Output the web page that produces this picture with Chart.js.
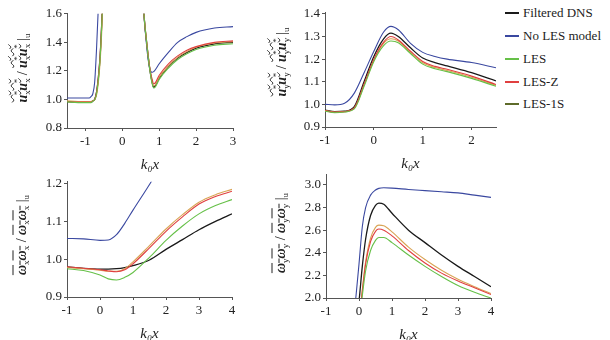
<!DOCTYPE html>
<html>
<head>
<meta charset="utf-8">
<script src="https://cdn.jsdelivr.net/npm/chart.js@4"></script>
<style>
  body { margin: 0; background: #fff; width: 610px; height: 340px; position: relative; overflow: hidden; font-family: "Liberation Serif", "Times New Roman", Tinos, "DejaVu Serif", serif; color: #222; }
  canvas { position: absolute; }
  .ytitle { position: absolute; white-space: nowrap; font-size: 14px; transform: translate(-50%, -50%) rotate(-90deg); }
  .ytitle i { font-weight: bold; }
  .til { text-decoration: overline wavy; text-decoration-thickness: 1px; }
  .bar { text-decoration: overline; text-decoration-thickness: 1px; }
  .ytitle sub { font-size: 9px; vertical-align: -3px; }
  .ytitle sup { font-size: 9px; margin-left: -5px; vertical-align: 7px; }
  #legend { position: absolute; left: 505px; top: 0; }
  .row { position: absolute; left: 0; height: 16px; white-space: nowrap; font-size: 13px; }
  .sw { position: absolute; left: 0; top: 7px; width: 14px; height: 2px; }
  .lab { position: absolute; left: 18px; top: 0; }
</style>
</head>
<body>
<canvas id="c1"></canvas>
<canvas id="c2"></canvas>
<canvas id="c3"></canvas>
<canvas id="c4"></canvas>

<div class="ytitle" style="left:22px; top:68px;"><span class="til"><i>u</i><sub>x</sub><sup>*</sup><i>u</i><sub>x</sub><sup>*</sup></span> / <span class="til"><i>u</i><sub>x</sub><sup>*</sup><i>u</i><sub>x</sub><sup>*</sup></span> |<sub>u</sub></div>
<div class="ytitle" style="left:281px; top:62px;"><span class="til"><i>u</i><sub>y</sub><sup>*</sup><i>u</i><sub>y</sub><sup>*</sup></span> / <span class="til"><i>u</i><sub>y</sub><sup>*</sup><i>u</i><sub>y</sub><sup>*</sup></span> |<sub>u</sub></div>
<div class="ytitle" style="left:22px; top:235px;"><span class="bar"><i>ω</i><sub>x</sub><i>ω</i><sub>x</sub></span> / <span class="bar"><i>ω</i><sub>x</sub><i>ω</i><sub>x</sub></span> |<sub>u</sub></div>
<div class="ytitle" style="left:281px; top:233px;"><span class="bar"><i>ω</i><sub>y</sub><i>ω</i><sub>y</sub></span> / <span class="bar"><i>ω</i><sub>y</sub><i>ω</i><sub>y</sub></span> |<sub>u</sub></div>

<div id="legend"></div>

<script>
// series names and colours
const seriesNames = ['Filtered DNS', 'No LES model', 'LES', 'LES-Z', 'LES-1S']
const lineColors = ['#1a1a1a', '#3a48a0', '#66c048', '#e04040', '#d9a455']
const legendColors = ['#1a1a1a', '#3a48a0', '#66c048', '#e04040', '#5e6b2a']

// panel 1: u_x u_x  (x from -1.5 to 3)
const x1 = [-1.5, -1.2, -0.9, -0.85, -0.8, -0.75, -0.7, -0.65, -0.6, -0.55, -0.5, 0.5, 0.55, 0.6, 0.65, 0.7, 0.75, 0.8, 0.85, 0.9, 1.0, 1.25, 1.5, 1.75, 2.0, 2.5, 3.0]
const p1Dns   = [0.985, 0.98, 0.98, 0.98, 0.99, 1.0, 1.05, 1.15, 1.31, 1.58, 1.9, 2.0, 1.75, 1.55, 1.42, 1.3, 1.2, 1.13, 1.085, 1.1, 1.15, 1.23, 1.29, 1.33, 1.36, 1.39, 1.40]
const p1NoLes = [1.01, 1.01, 1.01, 1.02, 1.04, 1.12, 1.35, 1.65, 2.0, null, null, 2.1, 1.8, 1.55, 1.4, 1.28, 1.21, 1.19, 1.195, 1.21, 1.25, 1.33, 1.40, 1.44, 1.47, 1.50, 1.51]
const p1Les   = [0.983, 0.978, 0.978, 0.978, 0.988, 0.998, 1.04, 1.14, 1.3, 1.57, 1.9, 2.0, 1.75, 1.55, 1.42, 1.3, 1.2, 1.12, 1.08, 1.09, 1.14, 1.22, 1.28, 1.32, 1.35, 1.38, 1.39]
const p1LesZ  = [0.986, 0.982, 0.982, 0.982, 0.99, 1.0, 1.05, 1.16, 1.32, 1.59, 1.9, 2.0, 1.75, 1.55, 1.42, 1.31, 1.21, 1.15, 1.11, 1.12, 1.17, 1.25, 1.305, 1.345, 1.37, 1.40, 1.41]
const p1Les1S = [0.99, 0.985, 0.985, 0.985, 0.99, 0.998, 1.03, 1.12, 1.27, 1.52, 1.85, 2.0, 1.76, 1.56, 1.43, 1.31, 1.21, 1.13, 1.095, 1.105, 1.155, 1.235, 1.295, 1.335, 1.365, 1.395, 1.405]
const xTicks1 = [-1, 0, 1, 2, 3]
const yTicks1 = [0.8, 1.0, 1.2, 1.4, 1.6]

// panel 2: u_y u_y  (x from -1 to 2.5)
const x2 = [-1, -0.8, -0.6, -0.4, -0.2, 0, 0.2, 0.35, 0.5, 0.75, 1.0, 1.25, 1.5, 2.0, 2.5]
const p2Dns   = [0.975, 0.968, 0.97, 0.99, 1.10, 1.212, 1.29, 1.315, 1.30, 1.25, 1.205, 1.185, 1.17, 1.14, 1.104]
const p2NoLes = [1.0, 0.998, 1.005, 1.05, 1.14, 1.235, 1.32, 1.345, 1.33, 1.27, 1.23, 1.212, 1.20, 1.185, 1.162]
const p2Les   = [0.97, 0.963, 0.966, 0.98, 1.08, 1.19, 1.26, 1.28, 1.273, 1.225, 1.178, 1.158, 1.145, 1.115, 1.08]
const p2LesZ  = [0.972, 0.965, 0.968, 0.985, 1.09, 1.20, 1.275, 1.30, 1.285, 1.235, 1.19, 1.168, 1.155, 1.125, 1.088]
const p2Les1S = [0.973, 0.966, 0.968, 0.983, 1.085, 1.195, 1.27, 1.29, 1.28, 1.23, 1.184, 1.163, 1.15, 1.12, 1.084]
const xTicks2 = [-1, 0, 1, 2]
const yTicks2 = [0.9, 1.0, 1.1, 1.2, 1.3, 1.4]

// panel 3: omega_x omega_x  (x from -1 to 4)
const x3 = [-1, -0.5, 0, 0.25, 0.5, 0.75, 1.0, 1.5, 2.0, 2.5, 3.0, 3.5, 4.0]
const p3Dns   = [0.98, 0.976, 0.974, 0.974, 0.975, 0.978, 0.983, 0.998, 1.026, 1.052, 1.078, 1.10, 1.12]
const p3NoLes = [1.055, 1.054, 1.050, 1.051, 1.065, 1.095, 1.13, 1.198, 1.27, null, null, null, null]
const p3Les   = [0.975, 0.97, 0.958, 0.948, 0.945, 0.952, 0.965, 1.005, 1.05, 1.088, 1.12, 1.142, 1.158]
const p3LesZ  = [0.98, 0.976, 0.972, 0.969, 0.967, 0.972, 0.988, 1.03, 1.074, 1.112, 1.146, 1.166, 1.18]
const p3Les1S = [0.978, 0.975, 0.971, 0.968, 0.968, 0.975, 0.993, 1.036, 1.08, 1.118, 1.151, 1.171, 1.185]
const xTicks3 = [-1, 0, 1, 2, 3, 4]
const yTicks3 = [0.9, 1.0, 1.1, 1.2]

// panel 4: omega_y omega_y  (x from -1 to 4)
const x4 = [-0.2, -0.1, 0, 0.1, 0.2, 0.35, 0.5, 0.6, 0.75, 1.0, 1.5, 2.0, 2.5, 3.0, 3.5, 4.0]
const p4Dns   = [1.5, 1.75, 1.97, 2.28, 2.52, 2.73, 2.82, 2.84, 2.83, 2.75, 2.60, 2.49, 2.38, 2.28, 2.19, 2.10]
const p4NoLes = [1.7, 1.99, 2.3, 2.63, 2.8, 2.91, 2.955, 2.97, 2.975, 2.972, 2.96, 2.95, 2.94, 2.93, 2.91, 2.89]
const p4Les   = [1.3, 1.55, 1.78, 2.02, 2.24, 2.42, 2.51, 2.535, 2.535, 2.49, 2.38, 2.28, 2.19, 2.11, 2.05, 2.0]
const p4LesZ  = [1.3, 1.55, 1.8, 2.06, 2.3, 2.5, 2.59, 2.61, 2.60, 2.55, 2.42, 2.31, 2.22, 2.15, 2.09, 2.03]
const p4Les1S = [1.3, 1.55, 1.8, 2.07, 2.32, 2.53, 2.625, 2.645, 2.64, 2.585, 2.45, 2.34, 2.245, 2.165, 2.10, 2.04]
const xTicks4 = [-1, 0, 1, 2, 3, 4]
const yTicks4 = [2.0, 2.2, 2.4, 2.6, 2.8, 3.0]

const YW = 40, XH = 46, PAD = 8
const serifFamily = '"Liberation Serif", "Times New Roman", Tinos, "DejaVu Serif", serif'
const tickFont = { family: serifFamily, size: 13 }

function makePanel(id, area, xs, series, xr, yr, xTicks, yTicks, yDigits) {
  const canvas = document.getElementById(id)
  const w = area.r - area.l + YW + PAD
  const h = area.b - area.t + PAD + XH
  canvas.width = w
  canvas.height = h
  canvas.style.left = (area.l - YW) + 'px'
  canvas.style.top = (area.t - PAD) + 'px'

  // draw order: coloured models first, DNS on top
  const order = [2, 3, 4, 1, 0]
  const datasets = order.map((i) => ({
    label: seriesNames[i],
    data: xs.map((x, k) => ({ x: x, y: series[i][k] })),
    borderColor: lineColors[i],
    borderWidth: i === 0 ? 1.3 : 1.1,
    pointRadius: 0,
    fill: false,
    spanGaps: false,
    cubicInterpolationMode: 'monotone',
  }))

  new Chart(canvas, {
    type: 'line',
    data: { datasets: datasets },
    options: {
      responsive: false,
      animation: false,
      events: [],
      layout: { padding: { left: 0, top: PAD, right: PAD, bottom: 0 } },
      plugins: { legend: { display: false }, tooltip: { enabled: false } },
      scales: {
        x: {
          type: 'linear', min: xr[0], max: xr[1],
          afterFit: (s) => { s.height = XH },
          afterBuildTicks: (s) => { s.ticks = xTicks.map((v) => ({ value: v })) },
          border: { display: true, color: '#555', width: 1 },
          grid: { display: true, drawOnChartArea: false, drawTicks: true, tickLength: 3, color: '#555' },
          ticks: { font: tickFont, color: '#222', padding: 3, maxRotation: 0, callback: (v) => String(v) },
          title: { display: true, text: 'k₀x', font: { family: serifFamily, size: 15, style: 'italic' }, color: '#222', padding: { top: 2, bottom: 0 } },
        },
        y: {
          type: 'linear', min: yr[0], max: yr[1],
          afterFit: (s) => { s.width = YW },
          afterBuildTicks: (s) => { s.ticks = yTicks.map((v) => ({ value: v })) },
          border: { display: true, color: '#555', width: 1 },
          grid: { display: true, drawOnChartArea: false, drawTicks: true, tickLength: 3, color: '#555' },
          ticks: { font: tickFont, color: '#222', padding: 2, callback: (v) => v.toFixed(yDigits) },
        },
      },
    },
  })
}

makePanel('c1', { l: 67, r: 233, t: 12, b: 128 }, x1, [p1Dns, p1NoLes, p1Les, p1LesZ, p1Les1S], [-1.5, 3], [0.8, 1.6], xTicks1, yTicks1, 1)
makePanel('c2', { l: 325, r: 496, t: 11, b: 127 }, x2, [p2Dns, p2NoLes, p2Les, p2LesZ, p2Les1S], [-1, 2.5], [0.9, 1.405], xTicks2, yTicks2, 1)
makePanel('c3', { l: 67, r: 232, t: 180, b: 297 }, x3, [p3Dns, p3NoLes, p3Les, p3LesZ, p3Les1S], [-1, 4], [0.9, 1.205], xTicks3, yTicks3, 1)
makePanel('c4', { l: 326, r: 491, t: 173, b: 298 }, x4, [p4Dns, p4NoLes, p4Les, p4LesZ, p4Les1S], [-1, 4], [2.0, 3.09], xTicks4, yTicks4, 1)

// legend on the right
const rowY = [13, 36, 59, 82, 104]
const legend = document.getElementById('legend')
legend.innerHTML = seriesNames.map((name, i) => [
  `<div class="row" style="top:${rowY[i] - 8}px">`,
    `<div class="sw" style="background:${legendColors[i]}"></div>`,
    `<div class="lab">${name}</div>`,
  '</div>',
].join('')).join('')
</script>
</body>
</html>
